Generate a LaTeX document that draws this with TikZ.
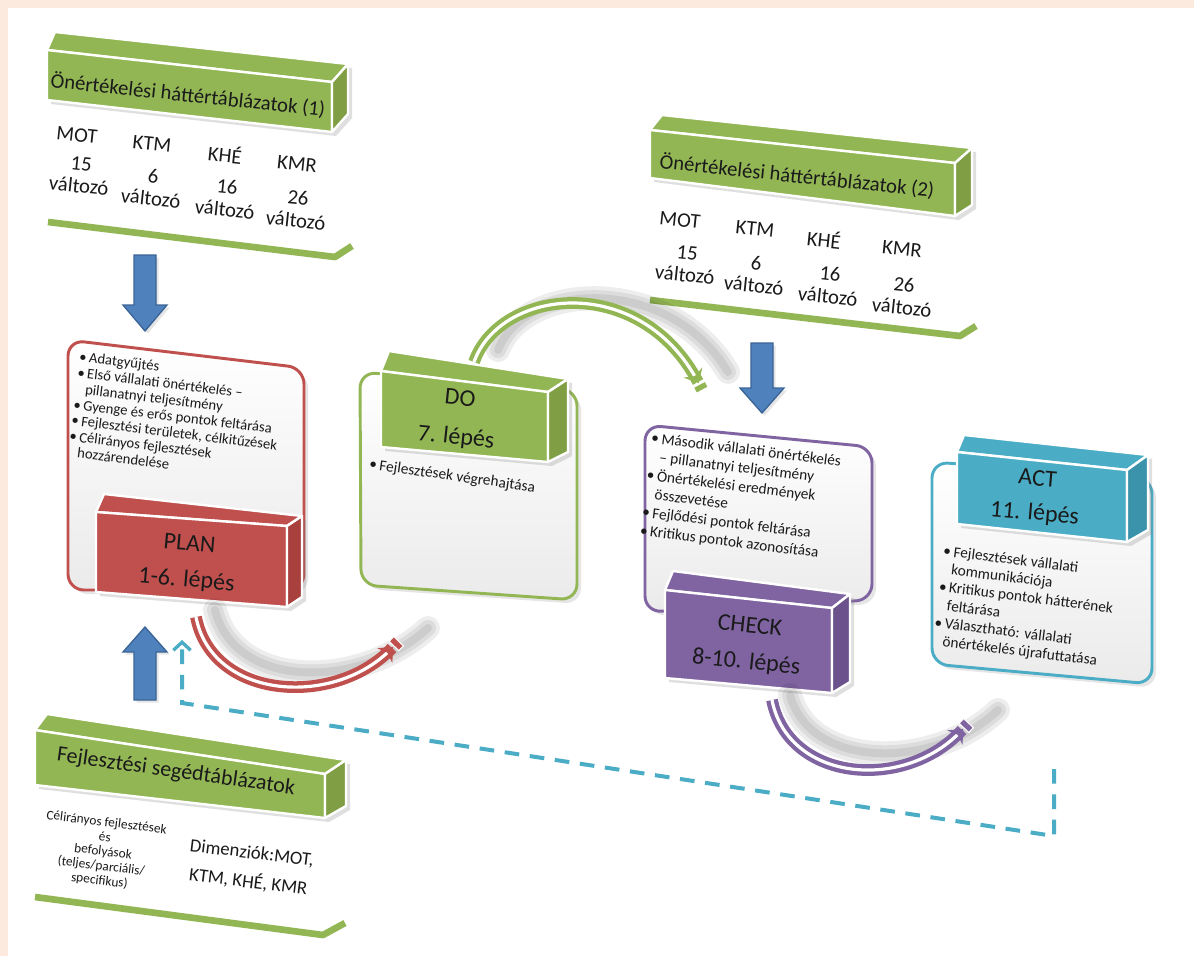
\documentclass[tikz,border=0pt]{standalone}
\usepackage{fontspec}
\setmainfont{Carlito}
\usetikzlibrary{shadows,decorations.markings,arrows.meta}
\definecolor{peach}{HTML}{FCEADF}
\definecolor{ogreen}{HTML}{93B654}
\definecolor{ogreenD}{HTML}{809F45}
\definecolor{ored}{HTML}{C0504D}
\definecolor{oredD}{HTML}{A8403D}
\definecolor{opurple}{HTML}{8064A2}
\definecolor{opurpleD}{HTML}{6C528C}
\definecolor{oteal}{HTML}{4BACC6}
\definecolor{otealD}{HTML}{3A93AB}
\definecolor{oblue}{HTML}{4F81BD}
\definecolor{oblueD}{HTML}{3B6496}
\definecolor{txt}{HTML}{1A1A1A}
\tikzset{
 face/.style={draw=white, line width=1.8pt, line join=round},
 hull/.style={drop shadow={opacity=0.25, shadow xshift=3pt, shadow yshift=-3pt}},
 panel/.style={line width=2.2pt, rounded corners=12pt, top color=white, bottom color=black!8,
   drop shadow={opacity=0.2, shadow xshift=3pt, shadow yshift=-3pt}},
 hdr/.style={rotate=-6, font=\fontsize{15.5}{18}\selectfont, text=txt},
 col/.style={rotate=-6, font=\fontsize{15.5}{17}\selectfont, align=center, text=txt, inner sep=0pt},
 lbl/.style={align=center, text=txt},
 blist/.style={anchor=north west, align=left, inner sep=0pt, text=txt},
 blockarrow/.style={fill=oblue, draw=oblueD, line width=1pt, line join=miter,
   drop shadow={opacity=0.2, shadow xshift=2pt, shadow yshift=-2pt}},
 arcband/.style={line width=3.2pt, double=white, double distance=2.4pt},
 arcshadow/.style={line cap=round, draw=black, opacity=0.07},
 arrowend/.style={postaction={decorate, decoration={markings,
   mark=at position 0.995 with {
     \fill[#1] (-7pt,-8pt) -- (2pt,0pt) -- (-7pt,8pt) -- (-4pt,0pt) -- cycle;
     \filldraw[#1, draw=white, line width=0.8pt] (3pt,-5pt) rectangle (8pt,5pt);}}}},
 dashline/.style={oteal, line width=3pt, dash pattern=on 11pt off 8pt},
}
\begin{document}
\begin{tikzpicture}[x=0.75pt,y=-0.75pt]
\useasboundingbox (0,0) rectangle (1194,956);
\fill[peach] (0,0) rectangle (1194,956);
\fill[white] (8,8) rectangle (1194,956);

% ---------- Table 1 ----------
\fill[white, hull] (47,50) -- (55,32) -- (348,64) -- (348,114) -- (332,132) -- (47,100) -- cycle;
\filldraw[face, fill=ogreen] (47,50) -- (55,32) -- (348,64) -- (332,82) -- cycle;
\filldraw[face, fill=ogreen] (47,50) -- (332,82) -- (332,132) -- (47,100) -- cycle;
\filldraw[face, fill=ogreenD] (332,82) -- (348,64) -- (348,114) -- (332,132) -- cycle;
\node[hdr] (t1) at (188,95) {Önértékelési háttértáblázatok (1)};
\node[col] (t1mot) at (77,135) {MOT};
\node[col] (t1ktm) at (152,144) {KTM};
\node[col] (t1khe) at (225,154) {KHÉ};
\node[col] (t1kmr) at (297,164) {KMR};
\node[col] (t1v1) at (80,175) {15\\változó};
\node[col] (t1v2) at (152,187) {6\\változó};
\node[col] (t1v3) at (226,198) {16\\változó};
\node[col] (t1v4) at (297,209) {26\\változó};
\draw[ogreen, line width=5pt, line join=bevel] (48,222) -- (335,257) -- (352,246);

\filldraw[blockarrow] (134,255) -- (156,255) -- (156,305) -- (167,305) -- (145,331) -- (123,305) -- (134,305) -- cycle;

% ---------- Table 2 ----------
\fill[white, hull] (650,130) -- (662,115) -- (972,148) -- (972,205) -- (955,216) -- (650,178) -- cycle;
\filldraw[face, fill=ogreen] (650,130) -- (662,115) -- (972,148) -- (955,163) -- cycle;
\filldraw[face, fill=ogreen] (650,130) -- (955,163) -- (955,216) -- (650,178) -- cycle;
\filldraw[face, fill=ogreenD] (955,163) -- (972,148) -- (972,205) -- (955,216) -- cycle;
\node[hdr] (t2) at (797,176) {Önértékelési háttértáblázatok (2)};
\node[col] (t2mot) at (680,220) {MOT};
\node[col] (t2ktm) at (755,229) {KTM};
\node[col] (t2khe) at (824,239) {KHÉ};
\node[col] (t2kmr) at (902,249) {KMR};
\node[col] (t2v1) at (686,264) {15\\változó};
\node[col] (t2v2) at (755,274) {6\\változó};
\node[col] (t2v3) at (829,285) {16\\változó};
\node[col] (t2v4) at (903,296) {26\\változó};
\draw[ogreen, line width=5pt, line join=bevel] (650,300) -- (960,336) -- (976,326);

\filldraw[blockarrow] (751,343) -- (773,343) -- (773,388) -- (784,388) -- (762,413) -- (740,388) -- (751,388) -- cycle;

% ---------- PLAN ----------
\path[panel, draw=ored] (68,340) -- (304,368) -- (304,590) -- (68,590) -- cycle;
\node[blist, rotate=-7, font=\fontsize{11}{12}\selectfont] (planlist) at (80,351)
 {•\,Adatgyűjtés\\•\,Első vállalati önértékelés –\\\hphantom{•\,}pillanatnyi teljesítmény\\•\,Gyenge és erős pontok feltárása\\•\,Fejlesztési területek, célkitűzések\\•\,Célirányos fejlesztések\\\hphantom{•\,}hozzárendelése};
\fill[white, hull] (96,512) -- (104,494) -- (302,516) -- (302,597) -- (287,607) -- (96,592) -- cycle;
\filldraw[face, fill=ored] (96,512) -- (104,494) -- (302,516) -- (287,526) -- cycle;
\filldraw[face, fill=ored] (96,512) -- (287,526) -- (287,607) -- (96,592) -- cycle;
\filldraw[face, fill=oredD] (287,526) -- (302,516) -- (302,597) -- (287,607) -- cycle;
\node[lbl, rotate=-5, font=\fontsize{18}{27}\selectfont] (plan) at (188,563) {PLAN\\1-6. lépés};

% ---------- DO ----------
\path[panel, draw=ogreen] (360,372) -- (577,390) -- (577,600) -- (361,585) -- cycle;
\fill[white, hull] (381,371) -- (389,351) -- (568,379) -- (568,452) -- (548,462) -- (381,447) -- cycle;
\filldraw[face, fill=ogreen] (381,371) -- (389,351) -- (568,379) -- (548,392) -- cycle;
\filldraw[face, fill=ogreen] (381,371) -- (548,392) -- (548,462) -- (381,447) -- cycle;
\filldraw[face, fill=ogreenD] (548,392) -- (568,379) -- (568,452) -- (548,462) -- cycle;
\node[lbl, rotate=-6, font=\fontsize{18}{29}\selectfont] (do) at (458,419) {DO\\7. lépés};
\node[blist, rotate=-8, font=\fontsize{11.5}{13}\selectfont] (dolist) at (370,458) {•\,Fejlesztések végrehajtása};

% ---------- CHECK ----------
\path[panel, draw=opurple] (645,425) -- (872,447) -- (872,600) -- (645,612) -- cycle;
\node[blist, rotate=-7, font=\fontsize{11.5}{14}\selectfont] (checklist) at (652,432)
 {•\,Második vállalati önértékelés\\\hphantom{•}\,– pillanatnyi teljesítmény\\•\,Önértékelési eredmények\\\hphantom{•\,}összevetése\\•\,Fejlődési pontok feltárása\\•\,Kritikus pontok azonosítása};
\fill[white, hull] (665,590) -- (673,571) -- (850,594) -- (850,682) -- (832,693) -- (665,678) -- cycle;
\filldraw[face, fill=opurple] (665,590) -- (673,571) -- (850,594) -- (832,608) -- cycle;
\filldraw[face, fill=opurple] (665,590) -- (832,608) -- (832,693) -- (665,678) -- cycle;
\filldraw[face, fill=opurpleD] (832,608) -- (850,594) -- (850,682) -- (832,693) -- cycle;
\node[lbl, rotate=-6, font=\fontsize{18}{27}\selectfont] (check) at (748,645) {CHECK\\8-10. lépés};

% ---------- ACT ----------
\path[panel, draw=oteal] (932,462) -- (1152,478) -- (1152,684) -- (932,664) -- cycle;
\fill[white, hull] (957,452) -- (964,435) -- (1148,455) -- (1148,530) -- (1127,542) -- (957,524) -- cycle;
\filldraw[face, fill=oteal] (957,452) -- (964,435) -- (1148,455) -- (1127,470) -- cycle;
\filldraw[face, fill=oteal] (957,452) -- (1127,470) -- (1127,542) -- (957,524) -- cycle;
\filldraw[face, fill=otealD] (1127,470) -- (1148,455) -- (1148,530) -- (1127,542) -- cycle;
\node[lbl, rotate=-5, font=\fontsize{18}{26}\selectfont] (act) at (1036,497) {ACT\\11. lépés};
\node[blist, rotate=-7, font=\fontsize{11.5}{13.5}\selectfont] (actlist) at (944,545)
 {•\,Fejlesztések vállalati\\\hphantom{•\,}kommunikációja\\•\,Kritikus pontok hátterének\\\hphantom{•\,}feltárása\\•\,Választható: vállalati\\\hphantom{•\,}önértékelés újrafuttatása};

% ---------- Bottom table ----------
\fill[white, hull] (35,730) -- (47,714) -- (346,760) -- (346,806) -- (325,818) -- (35,785) -- cycle;
\filldraw[face, fill=ogreen] (35,730) -- (47,714) -- (346,760) -- (325,774) -- cycle;
\filldraw[face, fill=ogreen] (35,730) -- (325,774) -- (325,818) -- (35,785) -- cycle;
\filldraw[face, fill=ogreenD] (325,774) -- (346,760) -- (346,806) -- (325,818) -- cycle;
\node[rotate=-8, font=\fontsize{16.5}{20}\selectfont, text=txt] (bt) at (176,772) {Fejlesztési segédtáblázatok};
\node[rotate=-7, align=center, font=\fontsize{10}{11}\selectfont, text=txt] (bt1) at (103,852)
 {Célirányos fejlesztések\\és\\befolyások\\(teljes/parciális/\\specifikus)};
\node[rotate=-7, align=center, font=\fontsize{14}{22}\selectfont, text=txt] (bt2) at (250,868) {Dimenziók:MOT,\\KTM, KHÉ, KMR};
\draw[ogreen, line width=5pt, line join=bevel] (35,897) -- (323,935) -- (345,923);

\filldraw[blockarrow] (134,700) -- (156,700) -- (156,652) -- (167,652) -- (145,627) -- (123,652) -- (134,652) -- cycle;

% ---------- dashed feedback ----------
\coordinate (dstart) at (1054,769);
\coordinate (dc1) at (1054,836);
\coordinate (dc2) at (182,703);
\coordinate (dend) at (182,640);
\draw[dashline, -{Straight Barb[length=6pt,width=13pt,line width=2.5pt]}] (dstart) -- (dc1) -- (dc2) -- (dend);

% ---------- curved arrows ----------
\coordinate (planout) at (196,617);
\coordinate (doin) at (392,648);
\coordinate (doout) at (474,362);
\coordinate (checkin) at (698,382);
\coordinate (checkout) at (772,700);
\coordinate (actin) at (962,730);

\foreach \w in {18,12,6}
  \draw[arcshadow, line width=\w pt] (215,610) .. controls (235,690) and (360,690) .. (428,628);
\draw[arcband, draw=ored, arrowend=ored] (planout) .. controls (212,700) and (335,708) .. (doin);

\foreach \w in {18,12,6}
  \draw[arcshadow, line width=\w pt] (498,350) .. controls (525,280) and (670,275) .. (728,372);
\draw[arcband, draw=ogreen, arrowend=ogreen] (doout) .. controls (500,288) and (640,272) .. (checkin);

\foreach \w in {18,12,6}
  \draw[arcshadow, line width=\w pt] (790,695) .. controls (810,770) and (935,770) .. (998,710);
\draw[arcband, draw=opurple, arrowend=opurple] (checkout) .. controls (788,782) and (905,792) .. (actin);
\end{tikzpicture}
\end{document}
